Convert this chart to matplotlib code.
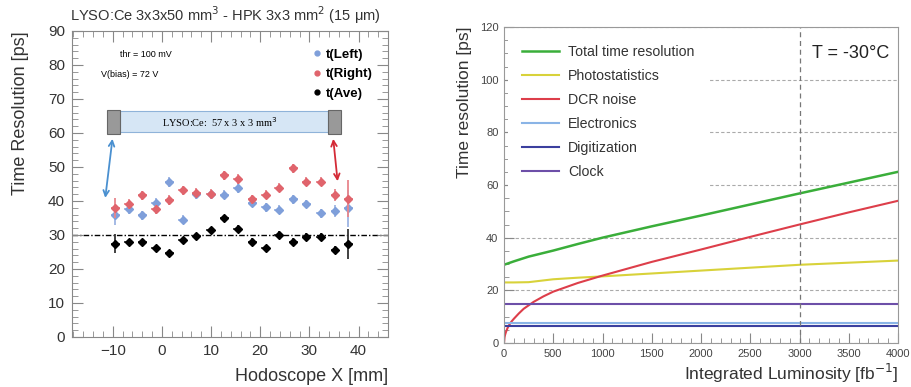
import numpy as np
import matplotlib
matplotlib.use("Agg")
import matplotlib.pyplot as plt
from matplotlib.patches import Rectangle
from matplotlib.lines import Line2D
from matplotlib.ticker import MultipleLocator

plt.rcParams['font.family'] = ['Liberation Sans', 'DejaVu Sans']

# Left panel: time resolution vs hodoscope position
hodo_x = [-9.5, -6.8, -4.0, -1.3, 1.5, 4.2, 7.0, 9.9, 12.7,
          15.4, 18.4, 21.1, 23.8, 26.7, 29.4, 32.3, 35.2, 37.9]
t_left = [35.8, 37.6, 35.8, 39.5, 45.7, 34.5, 42.0, 42.0, 41.8,
          43.9, 39.5, 38.1, 37.4, 40.5, 39.1, 36.4, 37.1, 37.8]
t_right = [37.9, 39.1, 41.7, 37.6, 40.3, 43.2, 42.5, 42.2, 47.6,
           46.4, 40.5, 41.8, 43.9, 49.6, 45.7, 45.7, 41.7, 40.7]
t_ave = [27.4, 27.8, 27.8, 26.1, 24.6, 28.5, 29.6, 31.5, 34.9,
         31.8, 28.0, 26.1, 30.1, 28.0, 29.5, 29.5, 25.6, 27.4]
err_left = [3.0, 1.5, 1.3, 1.3, 1.5, 1.3, 1.3, 1.3, 1.3,
            1.5, 1.3, 1.3, 1.3, 1.3, 1.3, 1.3, 1.8, 5.5]
err_right = [3.0, 1.5, 1.3, 1.3, 1.5, 1.3, 1.3, 1.3, 1.3,
             1.5, 1.3, 1.3, 1.3, 1.3, 1.3, 1.3, 1.8, 5.5]
err_ave = [2.8, 1.0, 1.0, 1.0, 1.0, 1.0, 1.0, 1.0, 1.0,
           1.0, 1.0, 1.0, 1.0, 1.0, 1.0, 1.0, 1.3, 4.5]

# Right panel: time resolution contributions vs integrated luminosity
lumi = [0, 100, 250, 500, 750, 1000, 1500, 2000, 2500, 3000, 3500, 4000]
total_res = [29.7, 31.0, 32.8, 35.1, 37.6, 40.0, 44.3, 48.4, 52.6, 56.8, 60.9, 65.0]
photostat = [23.0, 23.0, 23.1, 24.2, 24.8, 25.3, 26.4, 27.5, 28.6, 29.7, 30.5, 31.3]
lumi_dcr = [0, 5, 10, 20, 35, 50, 75, 100, 150, 200, 300, 400, 500, 750,
            1000, 1500, 2000, 2500, 3000, 3500, 4000]
dcr_noise = [0, 2.1, 3.0, 4.2, 5.6, 6.7, 8.1, 9.2, 11.2, 13.0, 15.6, 17.7, 19.5, 22.8,
             25.6, 30.8, 35.5, 40.3, 45.0, 49.6, 54.0]
electronics = 7.6
digitization = 6.3
clock = 14.8

fig = plt.figure(figsize=(9.11, 3.87), dpi=100)
fig.patch.set_facecolor('white')

# ---------------- left panel ----------------
ax1 = fig.add_axes([72/911, 1 - 337/387, 316/911, 306/387])
ax1.set_xlim(-18.3, 46)
ax1.set_ylim(0, 90)

ax1.axhline(30, color='black', lw=1.0, ls=(0, (4, 1.5, 1, 1.5)), zorder=1)

ekw = dict(fmt='D', markersize=4.2, capsize=0, elinewidth=1.3, xerr=0.9)
ax1.errorbar(hodo_x, t_left, yerr=err_left, color='#7f9fda', ecolor='#9db4e3', **ekw, zorder=3)
ax1.errorbar(hodo_x, t_right, yerr=err_right, color='#e0646c', ecolor='#e8868c', **ekw, zorder=4)
ax1.errorbar(hodo_x, t_ave, yerr=err_ave, color='black', ecolor='#333333', **ekw, zorder=5)

# crystal sketch
ax1.add_patch(Rectangle((-8.5, 60.2), 42.2, 6.2, facecolor='#d6e6f5', edgecolor='#8fb3d9', lw=0.8, zorder=2))
ax1.add_patch(Rectangle((-11.2, 59.6), 2.7, 7.2, facecolor='#999999', edgecolor='#666666', lw=0.8, zorder=2))
ax1.add_patch(Rectangle((33.7, 59.6), 2.7, 7.2, facecolor='#999999', edgecolor='#666666', lw=0.8, zorder=2))
ax1.text(11.8, 63.3, 'LYSO:Ce:  57 x 3 x 3 mm$^3$', family='Liberation Serif', fontsize=7.5,
         ha='center', va='center', zorder=3)
ax1.annotate('', xy=(-11.6, 40.1), xytext=(-10.0, 59.1),
             arrowprops=dict(arrowstyle='<->', color='#4a90d0', lw=1.3), zorder=3)
ax1.annotate('', xy=(35.8, 45.0), xytext=(34.8, 59.1),
             arrowprops=dict(arrowstyle='<->', color='#d42a36', lw=1.3), zorder=3)

ax1.text(-8.5, 83, 'thr = 100 mV', fontsize=6.5, va='center')
ax1.text(-12.4, 77.2, 'V(bias) = 72 V', fontsize=6.5, va='center')

handles = [Line2D([], [], ls='none', marker='o', markersize=3.5, color=c)
           for c in ['#7f9fda', '#e0646c', 'black']]
leg1 = ax1.legend(handles, ['t(Left)', 't(Right)', 't(Ave)'], loc='upper left',
                  bbox_to_anchor=(0.745, 0.96), frameon=False, handlelength=0.6,
                  handletextpad=0.4, labelspacing=0.55, borderaxespad=0,
                  prop=dict(weight='bold', size=9.5))

ax1.xaxis.set_major_locator(MultipleLocator(10))
ax1.xaxis.set_minor_locator(MultipleLocator(2))
ax1.yaxis.set_major_locator(MultipleLocator(10))
ax1.yaxis.set_minor_locator(MultipleLocator(2))
ax1.tick_params(which='both', direction='in', top=True, right=True, color='#888888')
ax1.tick_params(which='major', length=8, labelsize=11, labelcolor='#333333', pad=5)
ax1.tick_params(which='minor', length=4)
for s in ax1.spines.values():
    s.set_color('#888888')

ax1.set_xlabel('Hodoscope X [mm]', fontsize=13, color='#333333', loc='right')
ax1.set_ylabel('Time Resolution [ps]', fontsize=13, color='#333333', loc='top')
ax1.xaxis.set_label_coords(1.0, -0.1)
ax1.yaxis.set_label_coords(-0.135, 1.0)
fig.text(70/911, 1 - 15/387, 'LYSO:Ce 3x3x50 mm$^3$ - HPK 3x3 mm$^2$ (15 \u03bcm)',
         fontsize=10.5, color='#333333', va='center')

# ---------------- right panel ----------------
ax2 = fig.add_axes([504/911, 1 - 343/387, 394/911, 316/387])
ax2.set_xlim(0, 4000)
ax2.set_ylim(0, 120)

ax2.plot(lumi, total_res, color='#3aae3a', lw=1.8, label='Total time resolution')
ax2.plot(lumi, photostat, color='#d8d23a', lw=1.5, label='Photostatistics')
ax2.plot(lumi_dcr, dcr_noise, color='#dd3e4a', lw=1.5, label='DCR noise')
ax2.plot([0, 4000], [electronics] * 2, color='#8ab4e6', lw=1.5, label='Electronics')
ax2.plot([0, 4000], [digitization] * 2, color='#3b3f9e', lw=1.5, label='Digitization')
ax2.plot([0, 4000], [clock] * 2, color='#6d4fa8', lw=1.5, label='Clock')

ax2.yaxis.grid(True, color='#aaaaaa', ls=(0, (3, 2)), lw=0.8)
ax2.axvline(3000, color='#777777', ls=(0, (4, 3)), lw=0.9)
ax2.set_axisbelow(True)

leg2 = ax2.legend(loc='upper left', frameon=True, fontsize=10.2, handlelength=2.6,
                  handletextpad=0.6, labelspacing=0.7, borderaxespad=0.3,
                  borderpad=1.0)
leg2.get_frame().set_edgecolor('none')
leg2.get_frame().set_facecolor('white')
leg2.get_frame().set_alpha(1.0)
for t in leg2.get_texts():
    t.set_color('#333333')

ax2.text(3130, 110, 'T = -30\u00b0C', fontsize=13, color='#222222', va='center')

ax2.xaxis.set_major_locator(MultipleLocator(500))
ax2.xaxis.set_minor_locator(MultipleLocator(100))
ax2.yaxis.set_major_locator(MultipleLocator(20))
ax2.yaxis.set_minor_locator(MultipleLocator(5))
ax2.tick_params(which='both', direction='in', color='#888888')
ax2.tick_params(which='major', length=7, labelsize=8, labelcolor='#444444', pad=4)
ax2.tick_params(which='minor', length=3.5)
for s in ax2.spines.values():
    s.set_color('#999999')

ax2.set_xlabel('Integrated Luminosity [fb$^{-1}$]', fontsize=12.5, color='#333333', loc='right')
ax2.set_ylabel('Time resolution [ps]', fontsize=12.5, color='#333333', loc='top')
ax2.xaxis.set_label_coords(1.0, -0.06)
ax2.yaxis.set_label_coords(-0.082, 1.0)

fig.savefig('out.png', dpi=100)
